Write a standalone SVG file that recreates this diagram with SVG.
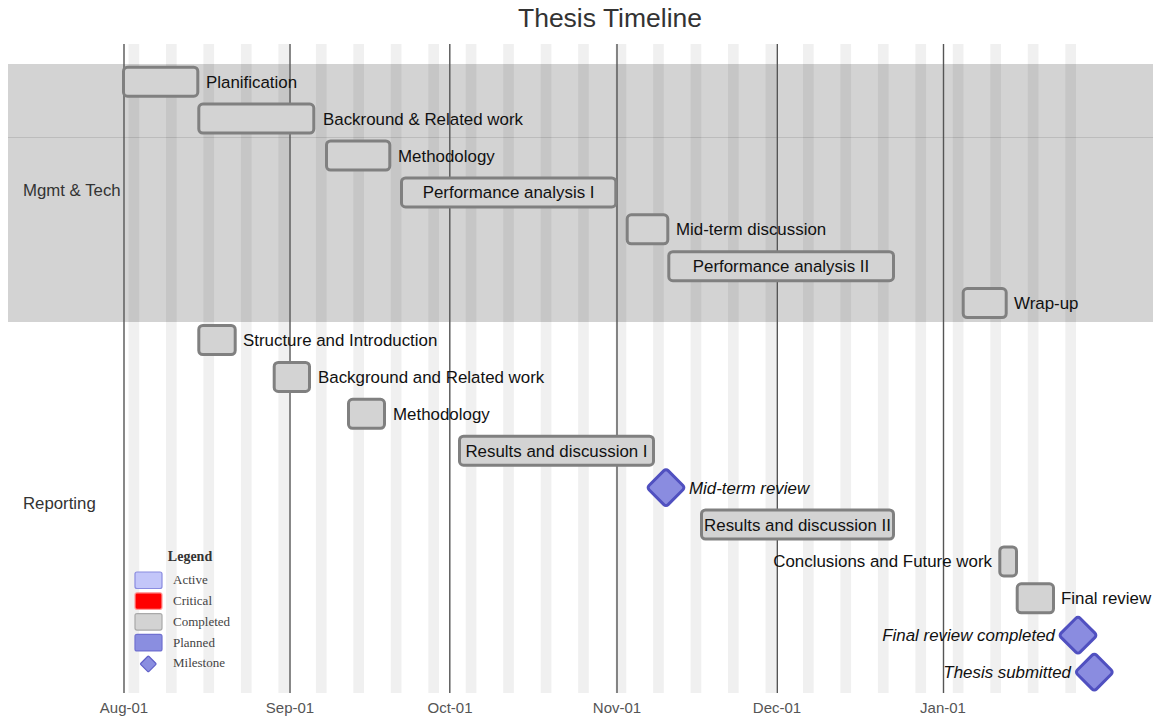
<svg xmlns="http://www.w3.org/2000/svg" width="1153" height="718" viewBox="0 0 1153 718">
<style>
.t{font-family:"Liberation Sans",Arial,sans-serif;}
.title{font-size:26.5px;fill:#333;text-anchor:middle;}
.sec{font-size:16.8px;fill:#333;}
.axis{font-size:15px;fill:#555;text-anchor:middle;}
.lbl{font-size:16.9px;fill:#111;}
.mid{text-anchor:middle;}
.end{text-anchor:end;}
.it{font-style:italic;}
.stripe{fill:#000;fill-opacity:0.06;}
.month{stroke:#555;stroke-width:1.4;}
.done{fill:#d3d3d3;stroke:#808080;stroke-width:3;}
.ms{fill:#8a8ce0;stroke:#5050c0;stroke-width:3;}
.lg{font-family:"Liberation Serif","Times New Roman",serif;font-size:13px;fill:#444;}
.lgh{font-family:"Liberation Serif","Times New Roman",serif;font-size:14px;font-weight:bold;fill:#333;text-anchor:middle;}
</style>
<rect width="1153" height="718" fill="#fff"/>
<text class="t title" x="610" y="27">Thesis Timeline</text>
<g id="section-bands">
<rect x="8" y="64" width="1145" height="258" fill="#d3d3d3"/>
<line x1="8" y1="137.5" x2="1153" y2="137.5" stroke="#bcbcbc" stroke-width="1"/>
</g>
<g id="weekends">
<rect class="stripe" x="128.5" y="44" width="10.7" height="649"/>
<rect class="stripe" x="166.0" y="44" width="10.7" height="649"/>
<rect class="stripe" x="203.4" y="44" width="10.7" height="649"/>
<rect class="stripe" x="240.9" y="44" width="10.7" height="649"/>
<rect class="stripe" x="278.4" y="44" width="10.7" height="649"/>
<rect class="stripe" x="315.9" y="44" width="10.7" height="649"/>
<rect class="stripe" x="353.3" y="44" width="10.7" height="649"/>
<rect class="stripe" x="390.8" y="44" width="10.7" height="649"/>
<rect class="stripe" x="428.3" y="44" width="10.7" height="649"/>
<rect class="stripe" x="465.7" y="44" width="10.7" height="649"/>
<rect class="stripe" x="503.2" y="44" width="10.7" height="649"/>
<rect class="stripe" x="540.7" y="44" width="10.7" height="649"/>
<rect class="stripe" x="578.1" y="44" width="10.7" height="649"/>
<rect class="stripe" x="615.6" y="44" width="10.7" height="649"/>
<rect class="stripe" x="653.1" y="44" width="10.7" height="649"/>
<rect class="stripe" x="690.6" y="44" width="10.7" height="649"/>
<rect class="stripe" x="728.0" y="44" width="10.7" height="649"/>
<rect class="stripe" x="765.5" y="44" width="10.7" height="649"/>
<rect class="stripe" x="803.0" y="44" width="10.7" height="649"/>
<rect class="stripe" x="840.4" y="44" width="10.7" height="649"/>
<rect class="stripe" x="877.9" y="44" width="10.7" height="649"/>
<rect class="stripe" x="915.4" y="44" width="10.7" height="649"/>
<rect class="stripe" x="952.8" y="44" width="10.7" height="649"/>
<rect class="stripe" x="990.3" y="44" width="10.7" height="649"/>
<rect class="stripe" x="1027.8" y="44" width="10.7" height="649"/>
<rect class="stripe" x="1065.3" y="44" width="10.7" height="649"/>
</g>
<g id="axis">
<line class="month" x1="124" y1="44" x2="124" y2="693"/>
<line class="month" x1="290" y1="44" x2="290" y2="693"/>
<line class="month" x1="449.8" y1="44" x2="449.8" y2="693"/>
<line class="month" x1="617" y1="44" x2="617" y2="693"/>
<line class="month" x1="777.3" y1="44" x2="777.3" y2="693"/>
<line class="month" x1="943.5" y1="44" x2="943.5" y2="693"/>
<text class="t axis" x="124" y="713">Aug-01</text>
<text class="t axis" x="290" y="713">Sep-01</text>
<text class="t axis" x="450" y="713">Oct-01</text>
<text class="t axis" x="617" y="713">Nov-01</text>
<text class="t axis" x="777" y="713">Dec-01</text>
<text class="t axis" x="943" y="713">Jan-01</text>
</g>
<text class="t sec" x="23" y="196">Mgmt &amp; Tech</text>
<text class="t sec" x="23" y="509">Reporting</text>
<g id="connectors"></g>
<g id="task-planification">
<rect class="done" x="123.5" y="67.2" width="74.3" height="29" rx="4"/>
<text class="t lbl" x="206" y="87.7">Planification</text>
</g>
<g id="task-backround">
<rect class="done" x="198.8" y="104.1" width="115" height="29" rx="4"/>
<text class="t lbl" x="323" y="124.6">Backround &amp; Related work</text>
</g>
<g id="task-methodology1">
<rect class="done" x="326.5" y="141" width="63.3" height="29" rx="4"/>
<text class="t lbl" x="398" y="161.5">Methodology</text>
</g>
<g id="task-perf1">
<rect class="done" x="401.5" y="177.9" width="214.3" height="29" rx="4"/>
<text class="t lbl mid" x="508.6" y="198.4">Performance analysis I</text>
</g>
<g id="task-midterm-discussion">
<rect class="done" x="627.2" y="214.8" width="40.6" height="29" rx="4"/>
<text class="t lbl" x="676" y="235.3">Mid-term discussion</text>
</g>
<g id="task-perf2">
<rect class="done" x="668.8" y="251.7" width="224.7" height="29" rx="4"/>
<text class="t lbl mid" x="781" y="272.2">Performance analysis II</text>
</g>
<g id="task-wrapup">
<rect class="done" x="963.2" y="288.6" width="43" height="29" rx="4"/>
<text class="t lbl" x="1014" y="309.1">Wrap-up</text>
</g>
<g id="task-structure">
<rect class="done" x="198.8" y="325.5" width="36.4" height="29" rx="4"/>
<text class="t lbl" x="243" y="346">Structure and Introduction</text>
</g>
<g id="task-background">
<rect class="done" x="274.2" y="362.4" width="35.3" height="29" rx="4"/>
<text class="t lbl" x="318" y="382.9">Background and Related work</text>
</g>
<g id="task-methodology2">
<rect class="done" x="348.5" y="399.3" width="36" height="29" rx="4"/>
<text class="t lbl" x="393" y="419.8">Methodology</text>
</g>
<g id="task-results1">
<rect class="done" x="459.5" y="436.2" width="194" height="29" rx="4"/>
<text class="t lbl mid" x="556.5" y="456.7">Results and discussion I</text>
</g>
<g id="milestone-midterm-review">
<rect class="ms" x="652.5" y="474.1" width="27" height="27" rx="3" transform="rotate(45 666 487.6)"/>
<text class="t lbl it" x="689" y="493.6">Mid-term review</text>
</g>
<g id="task-results2">
<rect class="done" x="701.5" y="510" width="192" height="29" rx="4"/>
<text class="t lbl mid" x="797.5" y="530.5">Results and discussion II</text>
</g>
<g id="task-conclusions">
<rect class="done" x="999.8" y="546.9" width="16.7" height="29" rx="4"/>
<text class="t lbl end" x="992" y="567.4">Conclusions and Future work</text>
</g>
<g id="task-final-review">
<rect class="done" x="1017.2" y="583.8" width="36.3" height="29" rx="4"/>
<text class="t lbl" x="1061" y="604.3">Final review</text>
</g>
<g id="milestone-final-review-completed">
<rect class="ms" x="1064.5" y="621.7" width="27" height="27" rx="3" transform="rotate(45 1078 635.2)"/>
<text class="t lbl it end" x="1055" y="641.2">Final review completed</text>
</g>
<g id="milestone-thesis-submitted">
<rect class="ms" x="1080.8" y="658.6" width="27" height="27" rx="3" transform="rotate(45 1094.3 672.1)"/>
<text class="t lbl it end" x="1071" y="678.1">Thesis submitted</text>
</g>
<g id="legend">
<text class="lgh" x="190" y="561">Legend</text>
<rect x="135" y="572" width="27" height="16.5" rx="2" fill="#c3c6f9" stroke="#8a8ce0" stroke-width="1.2"/>
<text class="lg" x="173" y="584">Active</text>
<rect x="135" y="592.8" width="27" height="16.5" rx="2" fill="#ff0000" stroke="#ff9a9a" stroke-width="1.2"/>
<text class="lg" x="173" y="605">Critical</text>
<rect x="135" y="613.6" width="27" height="16.5" rx="2" fill="#d3d3d3" stroke="#a9a9a9" stroke-width="1.2"/>
<text class="lg" x="173" y="625.8">Completed</text>
<rect x="135" y="634.4" width="27" height="16.5" rx="2" fill="#8a8ee0" stroke="#7070d0" stroke-width="1.2"/>
<text class="lg" x="173" y="646.6">Planned</text>
<rect x="142.5" y="658.2" width="11.5" height="11.5" rx="1" fill="#8a8ee0" stroke="#6060c8" stroke-width="1.2" transform="rotate(45 148.3 664)"/>
<text class="lg" x="173" y="667.4">Milestone</text>
</g>
</svg>
